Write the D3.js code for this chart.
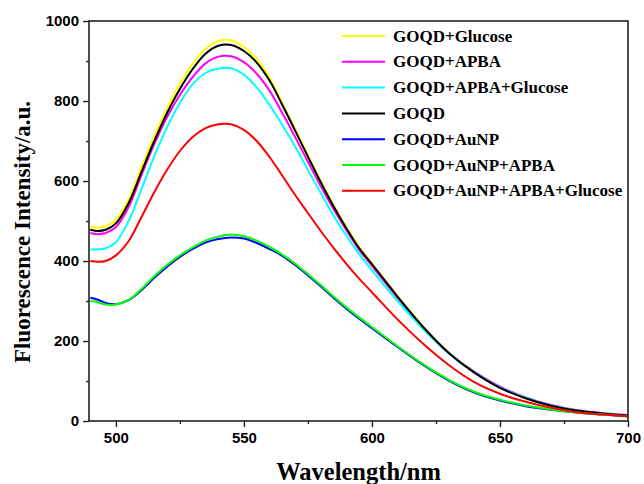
<!DOCTYPE html>
<html>
<head>
<meta charset="utf-8">
<script src="https://cdn.jsdelivr.net/npm/d3@7"></script>
<style>
  body { margin: 0; background: #fff; }
  svg text { fill: #000; }
</style>
</head>
<body>
<div id="chart_area"></div>
<script>
// wavelength grid (nm)
var wavelengths = [490, 493, 496, 500, 505, 510, 515, 520, 525, 530, 535, 540, 545, 550, 555, 560, 565, 570, 575, 580, 585, 590, 595, 600, 610, 620, 630, 640, 650, 660, 670, 680, 690, 700];

var goqdGlucose =     [487, 484, 487, 503, 555, 635, 712, 782, 843, 893, 930, 950, 952, 935, 905, 858, 795, 730, 665, 600, 540, 485, 435, 394, 313, 236, 171, 122, 84, 57, 38, 26, 19, 14];
var goqdApba =        [470, 467, 470, 485, 535, 615, 692, 760, 815, 860, 894, 911, 912, 897, 868, 826, 770, 710, 648, 587, 530, 477, 428, 388, 308, 233, 170, 123, 86, 59, 40, 27, 20, 15];
var goqdApbaGlucose = [429, 429, 432, 447, 500, 580, 662, 735, 795, 842, 870, 881, 882, 866, 834, 790, 740, 686, 628, 570, 514, 463, 417, 377, 300, 230, 169, 121, 84, 58, 39, 27, 19, 14];
var goqd =            [478, 475, 478, 494, 545, 623, 700, 770, 830, 880, 918, 938, 940, 925, 896, 851, 790, 726, 661, 597, 537, 482, 432, 392, 311, 235, 170, 121, 83, 57, 38, 26, 19, 14];
var goqdAunp =        [308, 303, 295, 292, 302, 327, 358, 386, 410, 430, 446, 455, 459, 456, 445, 430, 413, 390, 364, 337, 308, 281, 256, 232, 185, 140, 101, 71, 51, 37, 28, 21, 16, 12];
var goqdAunpApba =    [300, 297, 291, 291, 303, 330, 362, 390, 414, 434, 451, 461, 466, 462, 451, 435, 416, 393, 367, 340, 311, 284, 259, 235, 187, 142, 103, 73, 53, 39, 29, 21, 16, 12];
var goqdAunpApbaGlu = [400, 398, 400, 414, 450, 510, 572, 628, 675, 710, 732, 742, 742, 728, 700, 660, 613, 565, 520, 475, 433, 393, 356, 322, 254, 193, 140, 97, 68, 48, 33, 22, 16, 12];

var seriesNames = ["GOQD+Glucose", "GOQD+APBA", "GOQD+APBA+Glucose", "GOQD", "GOQD+AuNP", "GOQD+AuNP+APBA", "GOQD+AuNP+APBA+Glucose"];
var seriesColors = ["#ffff00", "#ff00ff", "#00ffff", "#000000", "#0000ff", "#00ff00", "#ff0000"];
var seriesValues = [goqdGlucose, goqdApba, goqdApbaGlucose, goqd, goqdAunp, goqdAunpApba, goqdAunpApbaGlu];

var xTicks = [500, 550, 600, 650, 700];
var xMinor = [525, 575, 625, 675];
var yTicks = [0, 200, 400, 600, 800, 1000];
var yMinor = [100, 300, 500, 700, 900];

var width = 644, height = 484;
var plotLeft = 89, plotRight = 628, plotTop = 21, plotBottom = 421;

var svg = d3.select("#chart_area")
    .append("svg")
    .attr("width", width)
    .attr("height", height);

var x = d3.scaleLinear().domain([489.5, 700]).range([plotLeft, plotRight]);
var y = d3.scaleLinear().domain([0, 1000]).range([plotBottom, plotTop]);

// curves
var line = d3.line()
    .x(function(d) { return x(d[0]); })
    .y(function(d) { return y(d[1]); })
    .curve(d3.curveCatmullRom.alpha(0.5));

var plot = svg.append("g");
seriesValues.forEach(function(vals, i) {
    plot.append("path")
        .datum(wavelengths.map(function(w, j) { return [w, vals[j]]; }))
        .attr("fill", "none")
        .attr("stroke", seriesColors[i])
        .attr("stroke-width", 2)
        .attr("d", line);
});

// frame
svg.append("rect")
    .attr("x", plotLeft).attr("y", plotTop)
    .attr("width", plotRight - plotLeft).attr("height", plotBottom - plotTop)
    .attr("fill", "none")
    .attr("stroke", "#222")
    .attr("stroke-width", 1.6);

// x axis
svg.append("g")
    .attr("transform", "translate(0," + plotBottom + ")")
    .call(d3.axisBottom(x).tickValues(xTicks).tickSize(6).tickPadding(5));
svg.append("g")
    .attr("transform", "translate(0," + plotBottom + ")")
    .call(d3.axisBottom(x).tickValues(xMinor).tickSize(3).tickFormat(""));

// y axis
svg.append("g")
    .attr("transform", "translate(" + plotLeft + ",0)")
    .call(d3.axisLeft(y).tickValues(yTicks).tickSize(6).tickPadding(4).tickFormat(d3.format("d")));
svg.append("g")
    .attr("transform", "translate(" + plotLeft + ",0)")
    .call(d3.axisLeft(y).tickValues(yMinor).tickSize(3).tickFormat(""));

svg.selectAll(".domain").remove();
svg.selectAll(".tick line").attr("stroke", "#222").attr("stroke-width", 1.4);
svg.selectAll(".tick text")
    .style("font-family", "Liberation Sans, Arial, sans-serif")
    .style("font-weight", "bold")
    .style("font-size", "15px");

// axis titles
svg.append("text")
    .attr("x", (plotLeft + plotRight) / 2)
    .attr("y", 480)
    .attr("text-anchor", "middle")
    .style("font-family", "Liberation Serif, Times New Roman, serif")
    .style("font-weight", "bold")
    .style("font-size", "24.5px")
    .text("Wavelength/nm");

svg.append("text")
    .attr("transform", "translate(30,232) rotate(-90)")
    .attr("text-anchor", "middle")
    .style("font-family", "Liberation Serif, Times New Roman, serif")
    .style("font-weight", "bold")
    .style("font-size", "23px")
    .text("Fluorescence Intensity/a.u.");

// legend
var legend = svg.append("g");
seriesNames.forEach(function(name, i) {
    var ly = 36 + i * 25.8;
    legend.append("line")
        .attr("x1", 342).attr("x2", 385)
        .attr("y1", ly).attr("y2", ly)
        .attr("stroke", seriesColors[i])
        .attr("stroke-width", 2);
    legend.append("text")
        .attr("x", 393)
        .attr("y", ly + 5.5)
        .style("font-family", "Liberation Serif, Times New Roman, serif")
        .style("font-weight", "bold")
        .style("font-size", "17px")
        .text(name);
});
</script>
</body>
</html>
